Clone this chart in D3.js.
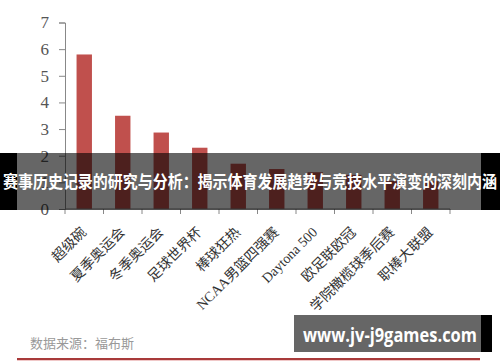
<!DOCTYPE html>
<html>
<head>
<meta charset="utf-8">
<script src="https://cdn.jsdelivr.net/npm/d3@7"></script>
<style>
  body { margin: 0; background: #fff; }
  svg { display: block; }
</style>
</head>
<body>
<div id="container"></div>
<script>
const WIDTH = 500,
  HEIGHT = 362;

// data
const categories = ["超级碗", "夏季奥运会", "冬季奥运会", "足球世界杯", "棒球狂热",
  "NCAA男篮四强赛", "Daytona 500", "欧足联欧冠", "学院橄榄球季后赛", "职棒大联盟"];
const values = [5.8, 3.5, 2.87, 2.3, 1.7, 1.5, 1.38, 1.28, 1.05, 1.04];
const yTicks = [0, 1, 2, 3, 4, 5, 6, 7];
const titleText = "赛事历史记录的研究与分析：揭示体育发展趋势与竞技水平演变的深刻内涵";
const sourceText = "数据来源：福布斯";
const watermark = "www.jv-j9games.com";

const svg = d3.select("#container")
  .append("svg")
  .attr("width", WIDTH)
  .attr("height", HEIGHT)

// Scales
const xScale = d3.scaleBand()
  .domain(categories)
  .range([65, 450])
  .paddingInner(0.6)
  .paddingOuter(0.3)

const yScale = d3.scaleLinear()
  .domain([0, 7])
  .range([209, 22.5])

// bars
svg.selectAll(".bar")
  .data(values)
  .join("rect")
  .attr("class", "bar")
  .attr("x", (d, i) => xScale(categories[i]))
  .attr("y", d => yScale(d))
  .attr("width", xScale.bandwidth())
  .attr("height", d => yScale(0) - yScale(d))
  .style("fill", "#c0504d")

// y axis
const yAxis = svg.append("g")
  .attr("class", "y-axis")
  .attr("transform", "translate(65,0)")
  .call(d3.axisLeft(yScale).tickValues(yTicks).tickSize(6).tickPadding(10).tickFormat(d3.format("d")))
yAxis.select(".domain").attr("stroke", "#888")
yAxis.selectAll(".tick line").attr("stroke", "#888")
yAxis.selectAll(".tick text")
  .attr("fill", "#555")
  .style("font-family", "'Liberation Serif', serif")
  .style("font-size", "17px")

// x axis: ticks sit between bars
const step = xScale.step()
const edges = categories.map(c => xScale(c) - step * 0.3).concat([xScale.range()[1]])
svg.append("line")
  .attr("x1", 65).attr("x2", xScale.range()[1])
  .attr("y1", yScale(0)).attr("y2", yScale(0))
  .attr("stroke", "#888")
svg.selectAll(".xtick")
  .data(edges)
  .join("line")
  .attr("class", "xtick")
  .attr("x1", d => d).attr("x2", d => d)
  .attr("y1", yScale(0)).attr("y2", yScale(0) + 5)
  .attr("stroke", "#888")

svg.selectAll(".xlabel")
  .data(categories)
  .join("text")
  .attr("class", "xlabel")
  .attr("text-anchor", "end")
  .attr("transform", d => `translate(${xScale(d) + xScale.bandwidth() / 2 + 3},${yScale(0) + 24}) rotate(-45)`)
  .attr("fill", "#333")
  .style("font-family", "'Liberation Serif', 'Noto Sans CJK SC', serif")
  .style("font-size", "14px")
  .text(d => d)

// source + bottom rule
svg.append("text")
  .attr("x", 30).attr("y", 348)
  .attr("fill", "#999")
  .style("font-family", "'Noto Sans CJK SC', sans-serif")
  .style("font-size", "13px")
  .text(sourceText)
svg.append("line")
  .attr("x1", 17).attr("x2", 480).attr("y1", 359).attr("y2", 359)
  .attr("stroke", "#a83a3a").attr("stroke-width", 2)
svg.append("line")
  .attr("x1", 17).attr("x2", 480).attr("y1", 360.5).attr("y2", 360.5)
  .attr("stroke", "#f0c8c8").attr("stroke-width", 1)

// title band overlay
svg.append("rect").attr("x", 0).attr("y", 153).attr("width", 17).attr("height", 57).attr("fill", "#000")
svg.append("rect").attr("x", 481).attr("y", 153).attr("width", 19).attr("height", 57).attr("fill", "#000")
svg.append("rect").attr("x", 17).attr("y", 153).attr("width", 464).attr("height", 57).attr("fill", "rgba(0,0,0,0.6)")
svg.append("text")
  .attr("x", 3).attr("y", 188)
  .attr("textLength", 494)
  .attr("lengthAdjust", "spacingAndGlyphs")
  .attr("fill", "#fff")
  .style("font-family", "'Noto Sans CJK SC', sans-serif")
  .style("font-weight", "bold")
  .style("font-size", "17px")
  .text(titleText)

// watermark box
svg.append("rect").attr("x", 481).attr("y", 315).attr("width", 11).attr("height", 37).attr("fill", "#000")
svg.append("rect").attr("x", 294).attr("y", 315).attr("width", 187).attr("height", 37).attr("fill", "rgba(0,0,0,0.6)")
svg.append("text")
  .attr("x", 303).attr("y", 342)
  .attr("textLength", 174)
  .attr("lengthAdjust", "spacingAndGlyphs")
  .attr("fill", "#fff")
  .style("font-family", "'Open Sans', sans-serif")
  .style("font-weight", "bold")
  .style("font-size", "20px")
  .text(watermark)
</script>
</body>
</html>
